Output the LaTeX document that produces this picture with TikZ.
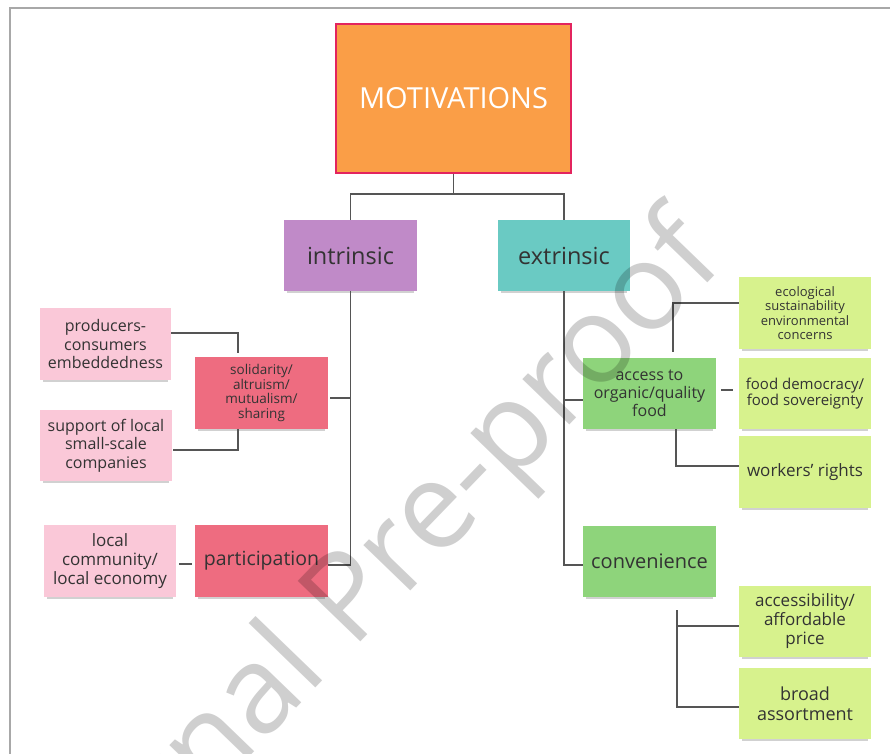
\documentclass[tikz,border=0pt]{standalone}
\usepackage{fontspec}
\setmainfont{Open Sans}
\usetikzlibrary{shadows}
\definecolor{motfill}{HTML}{FA9E47}
\definecolor{motdraw}{HTML}{E3245E}
\definecolor{purp}{HTML}{C08AC8}
\definecolor{teal2}{HTML}{6ACAC3}
\definecolor{redn}{HTML}{EE6C80}
\definecolor{pinkn}{HTML}{FAC8D8}
\definecolor{greenn}{HTML}{8ED47B}
\definecolor{limen}{HTML}{D7F28D}
\definecolor{txt}{HTML}{333333}
\definecolor{linec}{HTML}{555555}
\definecolor{framec}{HTML}{A8A8A8}
\tikzset{
  note/.style={inner sep=0pt, minimum width=132, minimum height=72, align=center, text=txt,
    drop shadow={shadow xshift=0pt, shadow yshift=-4pt, shadow scale=0.96, opacity=0.18, fill=black}},
  conn/.style={draw=linec, line width=1.1pt},
  fs/.style n args={2}{font=\fontsize{#1}{#2}\selectfont}
}
\begin{document}
\begin{tikzpicture}[x=1pt,y=-1pt]
\clip (0,0) rectangle (890,753);
\fill[white] (0,0) rectangle (890,753);
\draw[framec, line width=2pt] (10,760) -- (10,8) -- (895,8);

% top
\node[inner sep=0pt, minimum width=235, minimum height=149, fill=motfill, draw=motdraw, line width=1.6pt,
      text=white, fs={29}{30}] (mot) at (453.5,98.5) {MOTIVATIONS};
\node[note, fill=purp, minimum width=133, minimum height=71, fs={23.5}{25}] (intr) at (350.5,255.5) {intrinsic};
\node[note, fill=teal2, minimum width=132, minimum height=71, fs={23.5}{25}] (extr) at (564,255.5) {extrinsic};

% intrinsic side
\node[note, fill=redn, minimum width=133, fs={13.5}{14.7}] (soli) at (261.5,393) {solidarity/\\altruism/\\mutualism/\\sharing};
\node[note, fill=pinkn, minimum width=131, fs={16}{18.3}] (prod) at (105.5,344) {producers-\\consumers\\embeddedness};
\node[note, fill=pinkn, minimum width=132, minimum height=71, fs={16}{18.3}] (supp) at (106,445.5) {support of local\\small-scale\\companies};
\node[note, fill=pinkn, minimum width=132, fs={17}{19}] (locc) at (110,561) {local\\community/\\local economy};
\node[note, fill=redn, minimum width=133, fs={19.5}{21}] (part) at (261.5,561) {participation};

% extrinsic side
\node[note, fill=greenn, minimum width=133, minimum height=71, fs={16}{18}] (acc) at (649.5,393.5) {access to\\organic/quality\\food};
\node[note, fill=limen, fs={13}{14.5}] (eco) at (805,313) {ecological\\sustainability\\environmental\\concerns};
\node[note, fill=limen, minimum height=71, fs={15}{16.7}] (fdem) at (805,393.5) {food democracy/\\food sovereignty};
\node[note, fill=limen, fs={17}{19}] (work) at (805,472) {workers' rights};
\node[note, fill=greenn, minimum width=133, minimum height=71, fs={20}{22}] (conv) at (649.5,561.5) {convenience};
\node[note, fill=limen, minimum height=71, fs={17}{19}] (accs) at (805,621.5) {accessibility/\\affordable\\price};
\node[note, fill=limen, minimum height=71, fs={18}{20}] (broad) at (805,703.5) {broad\\assortment};

% connectors: top
\coordinate (j0) at (453.5,194);
\draw[conn] (mot.south) -- (j0);
\draw[conn] (intr.north) |- (j0) -| (extr.north);

% intrinsic trunk
\draw[conn] (intr.south) |- ([yshift=-4pt]part.east);
\draw[conn, shorten <=2pt] ([yshift=-5pt]soli.east) -- ([yshift=-5pt]soli.east -| intr.south);
\draw[conn] ([yshift=11pt]prod.east) -| ([xshift=-23.5pt, yshift=4pt]soli.north);
\draw[conn, shorten <=1pt] ([yshift=-4.5pt]supp.east) -| ([xshift=-23.5pt]soli.south);
\draw[conn, shorten <=3pt, shorten >=3pt] ([yshift=-3pt]locc.east) -- ([yshift=-3pt]part.west);

% extrinsic trunk
\draw[conn] (extr.south) |- ([yshift=-3.5pt]conv.west);
\draw[conn] ([yshift=-6.5pt]acc.west -| extr.south) -- ([yshift=-6.5pt]acc.west);
\draw[conn] ([xshift=23.5pt, yshift=6pt]acc.north) |- ([yshift=10pt]eco.west);
\draw[conn, shorten <=5pt, shorten >=6pt] ([yshift=3.5pt]acc.east) -- ([yshift=3.5pt]fdem.west);
\draw[conn] ([xshift=26.5pt]acc.south) |- ([yshift=6pt]work.west);

\coordinate (cb) at ([xshift=27.5pt, yshift=-13pt]conv.south);
\coordinate (accsin) at ([yshift=-4.5pt]accs.west);
\draw[conn] (cb) |- ([yshift=-3.5pt]broad.west);
\draw[conn] (accsin -| cb) -- (accsin);

% watermark
\node[rotate=46, anchor=base west, inner sep=0pt, text=black, text opacity=0.19,
      fs={122}{122}] (wm) at (352,651) {\llap{Journal }Pre-proof};
\end{tikzpicture}
\end{document}
